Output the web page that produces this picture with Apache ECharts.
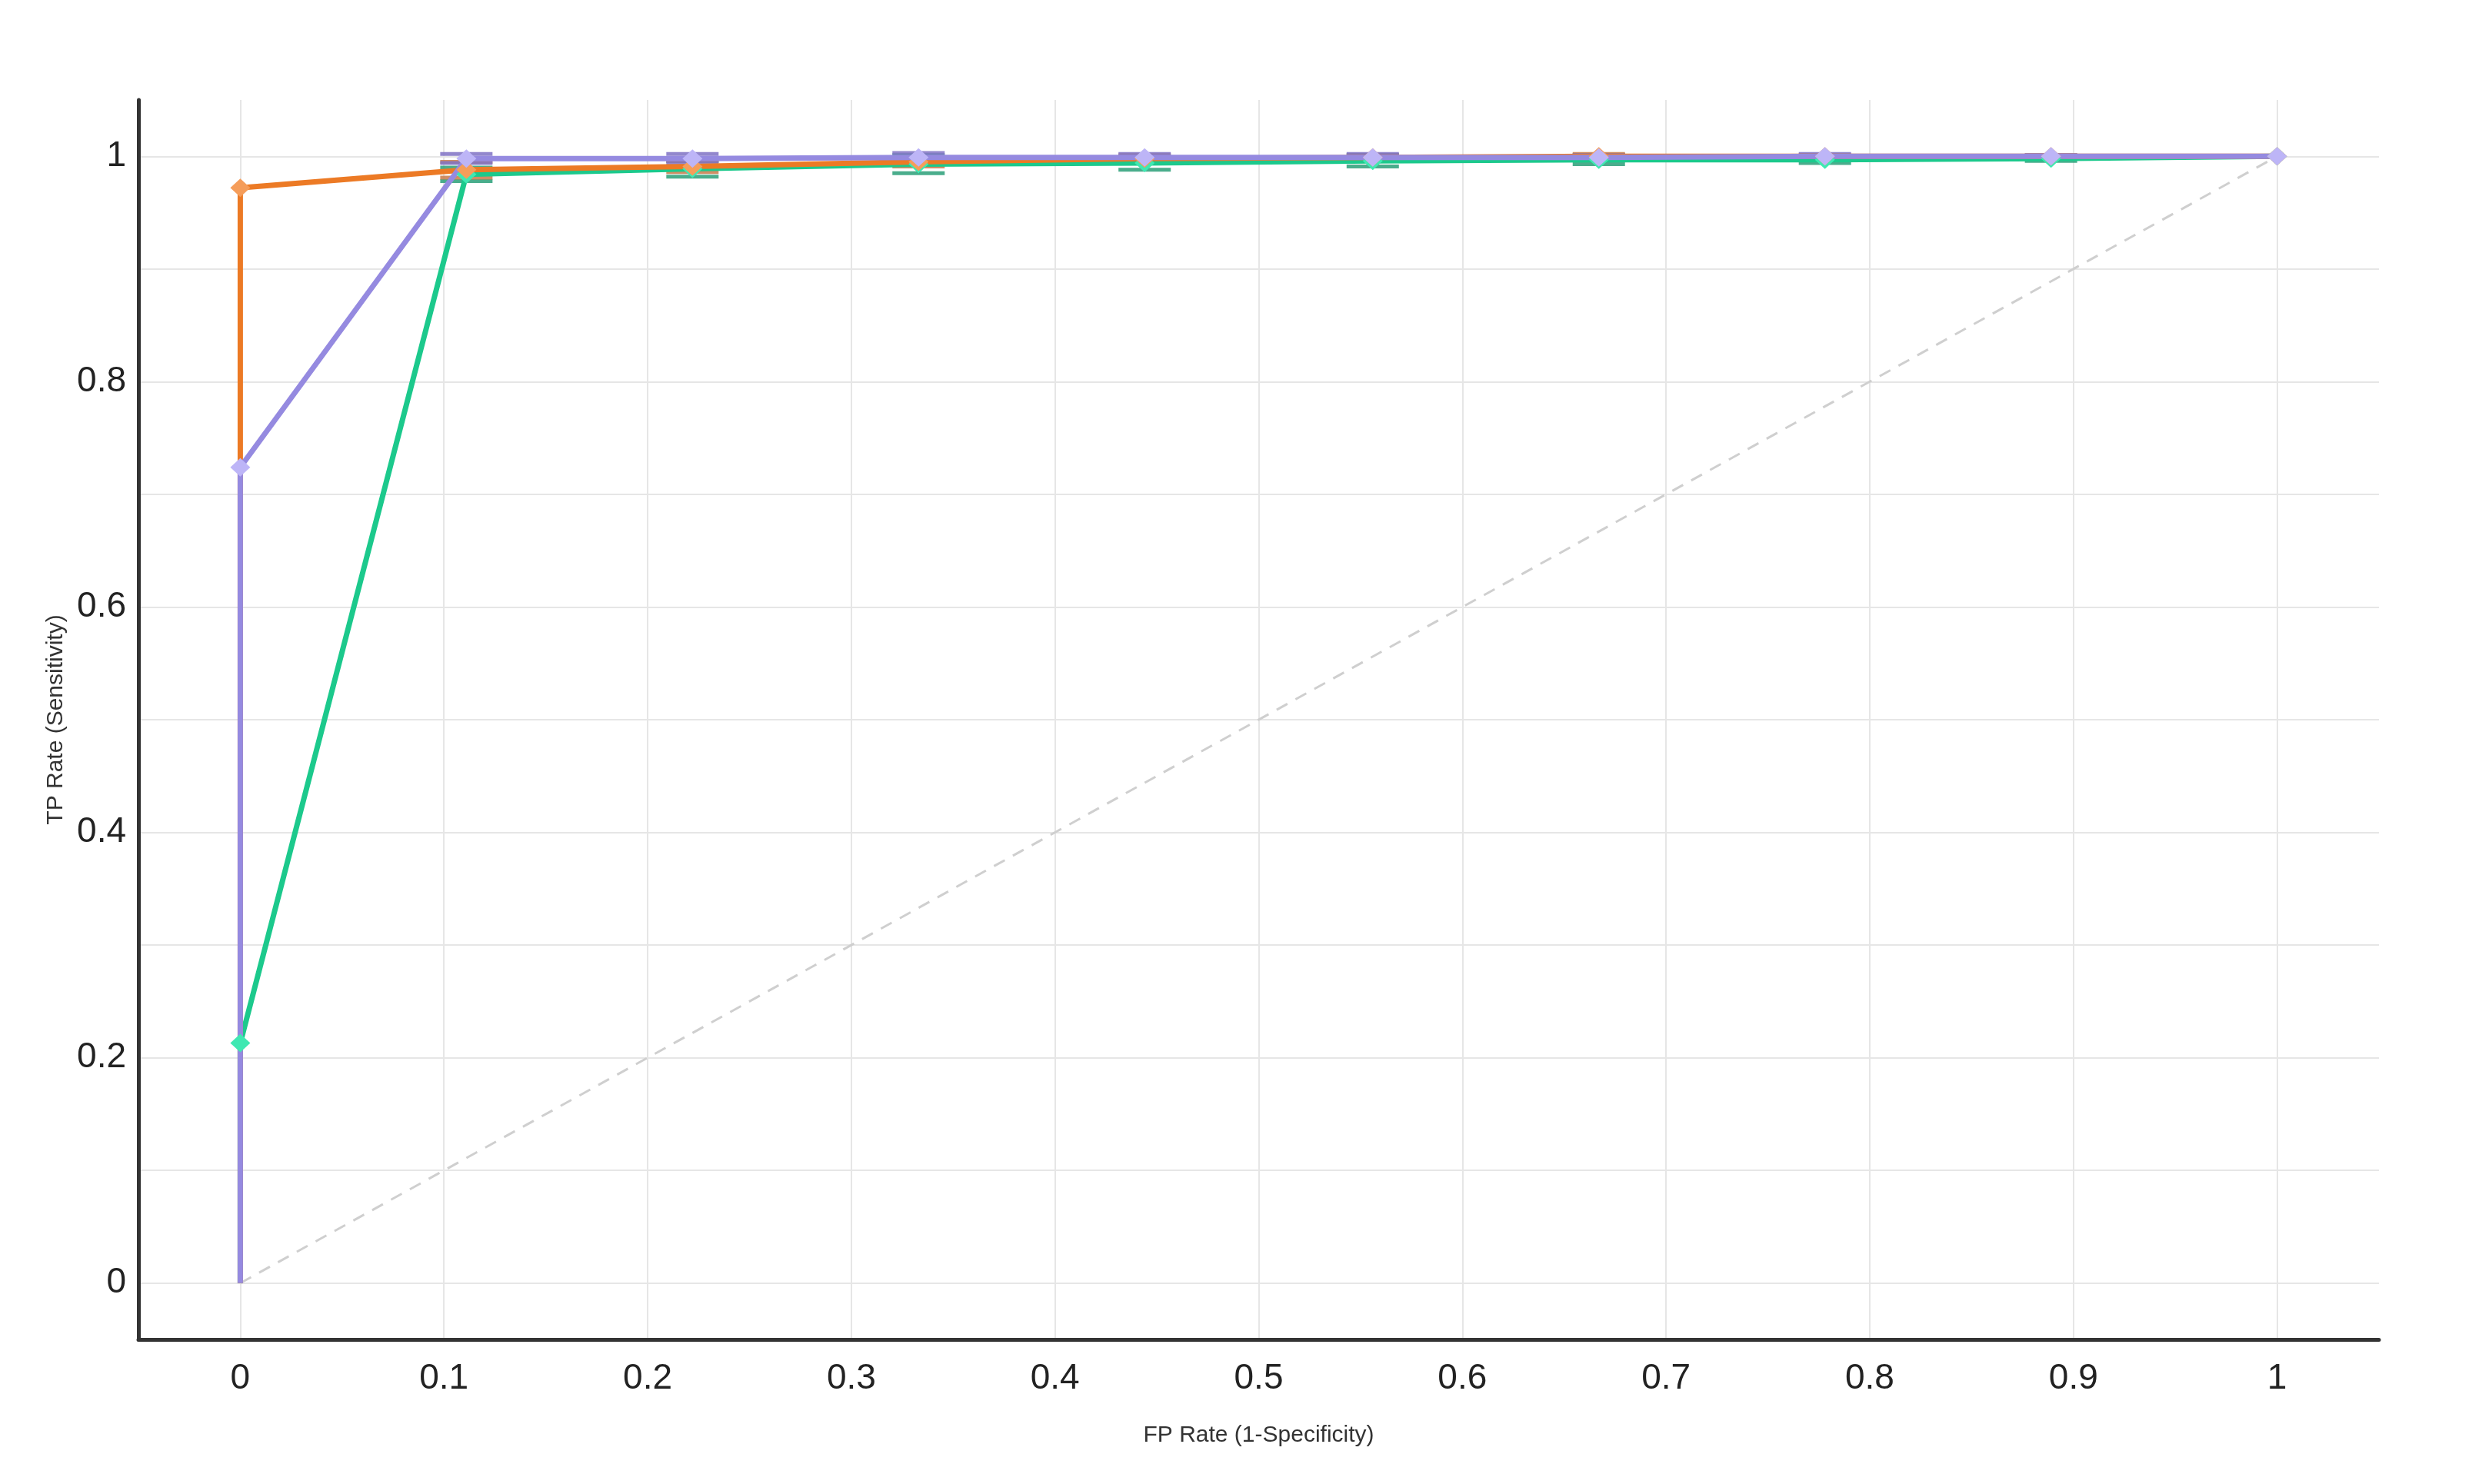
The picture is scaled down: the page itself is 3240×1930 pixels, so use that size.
<!DOCTYPE html>
<html>
<head>
<meta charset="utf-8">
<title>ROC curves</title>
<script src="https://cdn.jsdelivr.net/npm/echarts@6/dist/echarts.min.js"></script>
<style>
    html, body { margin: 0; padding: 0; background: #fff; }
    #chart { width: 3240px; height: 1930px; }
</style>
</head>
<body>
<div id="chart"></div>
<script>
// FP rate for each threshold (first entry is the origin of every curve)
const fpRate = [0, 0, 0.111, 0.222, 0.333, 0.444, 0.556, 0.667, 0.778, 0.889, 1];

// TP rate per model
const tpOrange = [0, 0.972, 0.988, 0.991, 0.995, 0.998, 0.999, 1.0, 1.0, 1.0, 1.0];
const tpPurple = [0, 0.724, 0.998, 0.998, 0.999, 0.999, 0.999, 0.999, 1.0, 1.0, 1.0];
const tpGreen  = [0, 0.213, 0.984, 0.989, 0.993, 0.994, 0.996, 0.997, 0.997, 0.998, 1.0];

// error bar half-heights (std) at each point
const errOrange = [0, 0, 0.007, 0.005, 0.004, 0.003, 0.002, 0.002, 0.001, 0.001, 0];
const errPurple = [0, 0, 0.004, 0.004, 0.004, 0.003, 0.003, 0.002, 0.002, 0.001, 0];
const errGreen  = [0, 0, 0.006, 0.007, 0.008, 0.006, 0.005, 0.004, 0.003, 0.002, 0];

// axis ticks
const xTicks = [0, 0.1, 0.2, 0.3, 0.4, 0.5, 0.6, 0.7, 0.8, 0.9, 1];
const yGrid = [0, 0.1, 0.2, 0.3, 0.4, 0.5, 0.6, 0.7, 0.8, 0.9, 1];
const yTicks = [0, 0.2, 0.4, 0.6, 0.8, 1];

const diagonal = [[0, 0], [1, 1]];

const models = [
    {name: 'green', tp: tpGreen, err: errGreen, line: '#1cc98c', marker: '#3fe8b2', cap: '#2a9f78'},
    {name: 'orange', tp: tpOrange, err: errOrange, line: '#ec7a25', marker: '#f59d5a', cap: '#c77a4a'},
    {name: 'purple', tp: tpPurple, err: errPurple, line: '#958ae0', marker: '#bdb5f7', cap: '#7f72c4'}
];

const chart = echarts.init(document.getElementById('chart'));

function errorBars(m) {
    const data = fpRate.map((x, i) => [x, m.tp[i] - m.err[i], m.tp[i] + m.err[i], m.err[i]]);
    return {
        type: 'custom',
        name: m.name + '-err',
        silent: true,
        z: 3,
        renderItem: (params, api) => {
            if (api.value(3) === 0) {
                return null;
            }
            const lo = api.coord([api.value(0), api.value(1)]);
            const hi = api.coord([api.value(0), api.value(2)]);
            const hw = 34;
            const style = {stroke: m.cap, lineWidth: 5, opacity: 0.85};
            return {
                type: 'group',
                children: [
                    {type: 'line', shape: {x1: lo[0], y1: lo[1], x2: hi[0], y2: hi[1]}, style: {stroke: m.cap, lineWidth: 3}},
                    {type: 'line', shape: {x1: lo[0] - hw, y1: lo[1], x2: lo[0] + hw, y2: lo[1]}, style},
                    {type: 'line', shape: {x1: hi[0] - hw, y1: hi[1], x2: hi[0] + hw, y2: hi[1]}, style}
                ]
            };
        },
        encode: {x: 0, y: [1, 2]},
        data: data
    };
}

function curve(m) {
    return {
        type: 'line',
        name: m.name,
        z: 4,
        symbol: 'diamond',
        symbolSize: [26, 24],
        showAllSymbol: true,
        lineStyle: {color: m.line, width: 7},
        itemStyle: {color: m.marker},
        data: fpRate.map((x, i) => i === 0 ? {value: [x, m.tp[i]], symbol: 'none'} : [x, m.tp[i]])
    };
}

const labelFont = {
    fontFamily: 'Liberation Sans, Arial, sans-serif',
    fontSize: 46,
    color: '#222'
};

const options = {
    animation: false,
    backgroundColor: '#fff',
    grid: {left: 180, top: 130, right: 147, bottom: 188},
    xAxis: {
        type: 'value',
        min: -0.05,
        max: 1.05,
        name: 'FP Rate (1-Specificity)',
        nameLocation: 'middle',
        nameGap: 110,
        nameTextStyle: {fontFamily: 'Liberation Sans, Arial, sans-serif', fontSize: 30, color: '#333'},
        axisLine: {onZero: false, lineStyle: {color: '#333', width: 5}},
        axisTick: {show: false, customValues: xTicks},
        axisLabel: Object.assign({customValues: xTicks, margin: 28}, labelFont),
        splitLine: {show: true, lineStyle: {color: '#e6e6e6', width: 2}}
    },
    yAxis: {
        type: 'value',
        min: -0.05,
        max: 1.05,
        name: 'TP Rate (Sensitivity)',
        nameLocation: 'middle',
        nameGap: 92,
        nameRotate: 90,
        nameTextStyle: {fontFamily: 'Liberation Sans, Arial, sans-serif', fontSize: 30, color: '#333'},
        axisLine: {show: true, onZero: false, lineStyle: {color: '#333', width: 5}},
        axisTick: {show: false, customValues: yGrid},
        axisLabel: Object.assign({customValues: yTicks, margin: 16}, labelFont),
        splitLine: {show: true, lineStyle: {color: '#e6e6e6', width: 2}}
    },
    series: [
        {
            type: 'line',
            name: 'chance',
            z: 2,
            symbol: 'none',
            silent: true,
            lineStyle: {color: '#cfcfcf', width: 3, type: [16, 12]},
            data: diagonal
        }
    ]
        .concat(models.map(errorBars))
        .concat(models.map(curve))
};

chart.setOption(options);
window.addEventListener('resize', () => chart.resize());
</script>
</body>
</html>
